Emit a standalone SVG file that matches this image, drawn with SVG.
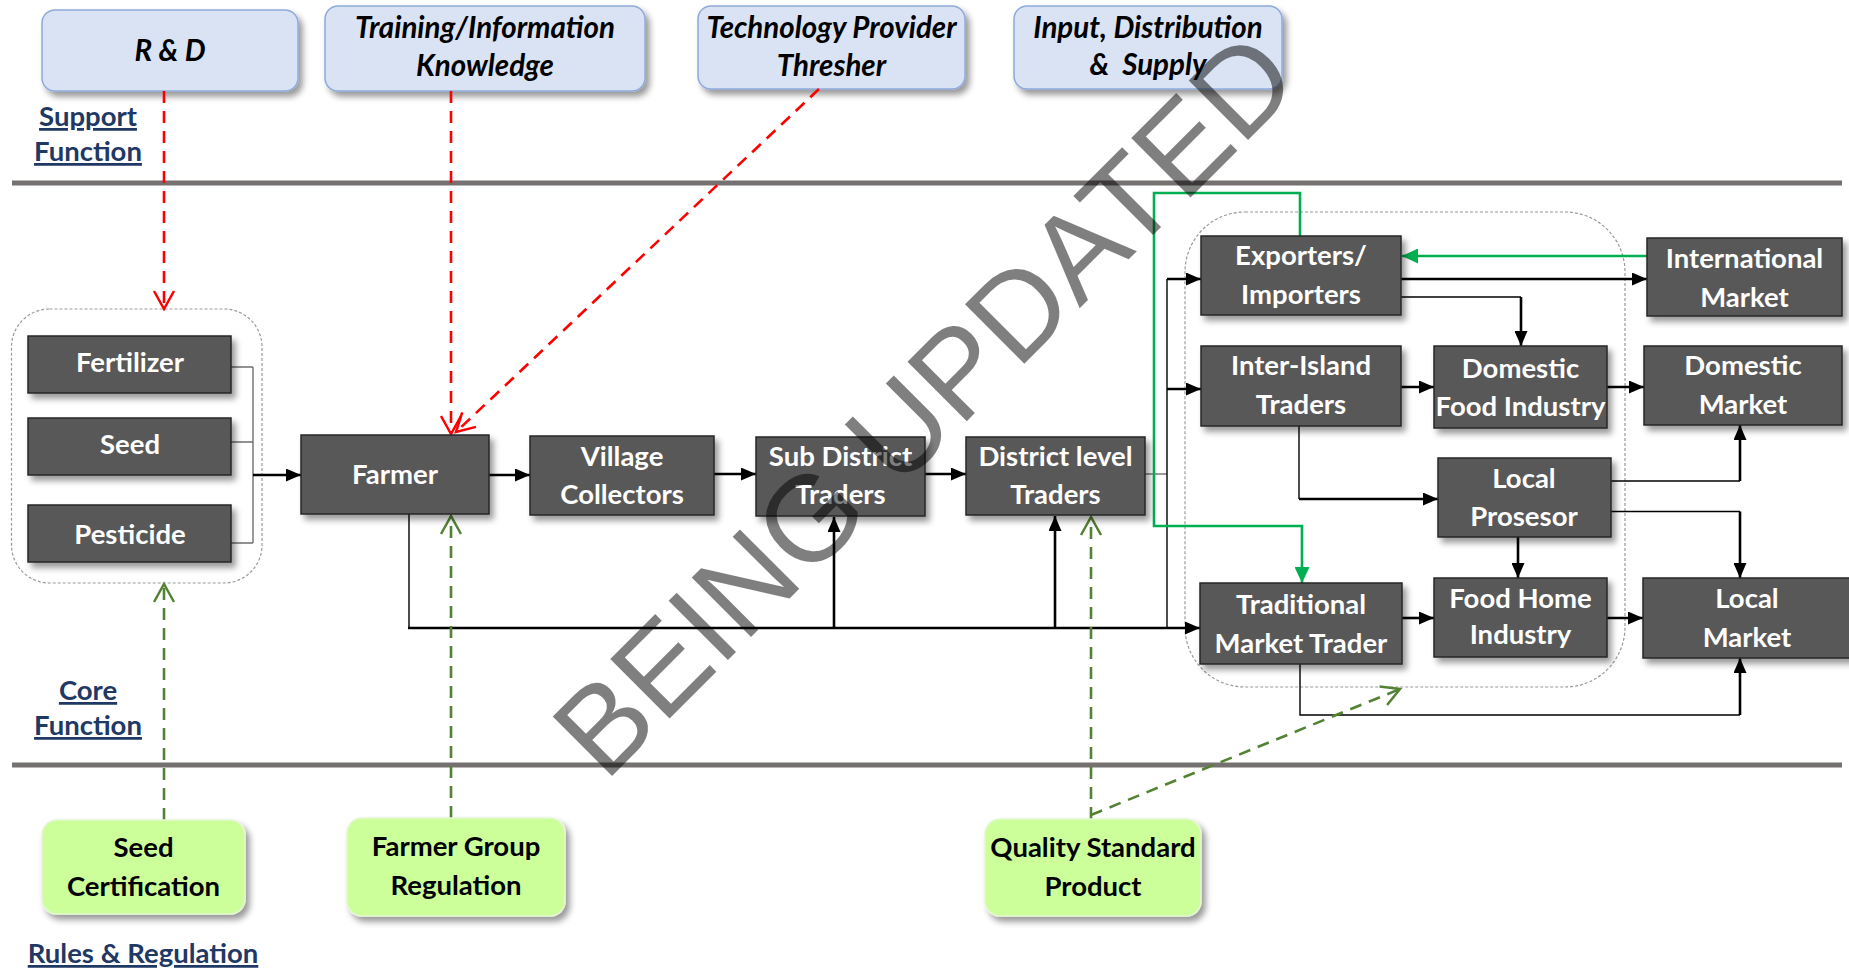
<svg xmlns="http://www.w3.org/2000/svg" width="1849" height="971" viewBox="0 0 1849 971">
  <defs>
    <filter id="shadow" x="-10%" y="-10%" width="130%" height="140%">
      <feDropShadow dx="4" dy="5" stdDeviation="3" flood-color="#000" flood-opacity="0.4"/>
    </filter>
    <marker id="arr" markerUnits="userSpaceOnUse" viewBox="0 0 15 13" markerWidth="15" markerHeight="13" refX="15" refY="6.5" orient="auto">
      <path d="M0,0 L15,6.5 L0,13 z" fill="#000"/>
    </marker>
    <marker id="arrG" markerUnits="userSpaceOnUse" viewBox="0 0 16 15" markerWidth="16" markerHeight="15" refX="16" refY="7.5" orient="auto">
      <path d="M0,0 L16,7.5 L0,15 z" fill="#00b050"/>
    </marker>
    <marker id="openR" markerUnits="userSpaceOnUse" viewBox="0 0 20 22" markerWidth="20" markerHeight="22" refX="18" refY="11" orient="auto" overflow="visible">
      <path d="M0,1 L18,11 L0,21" fill="none" stroke="#ff0000" stroke-width="2.5"/>
    </marker>
    <marker id="openG" markerUnits="userSpaceOnUse" viewBox="0 0 20 22" markerWidth="20" markerHeight="22" refX="18" refY="11" orient="auto" overflow="visible">
      <path d="M0,1 L18,11 L0,21" fill="none" stroke="#548235" stroke-width="2.5"/>
    </marker>
    <style>
      .sup rect { fill: #dae3f3; stroke: #8faadc; stroke-width: 1.5; }
      .sup text { font-family: Lato, "Liberation Sans", sans-serif; font-weight: bold; font-style: italic; font-size: 29.5px; text-anchor: middle; fill: #000; }
      .core rect { fill: #595959; stroke: #262626; stroke-width: 1.5; }
      .core text { font-family: Lato, "Liberation Sans", sans-serif; font-weight: bold; font-size: 27.5px; text-anchor: middle; fill: #fff; }
      .rule rect { fill: #ccff99; stroke: #e4f7d2; stroke-width: 1.5; }
      .rule text { font-family: Lato, "Liberation Sans", sans-serif; font-weight: bold; font-size: 27.5px; text-anchor: middle; fill: #000; }
      .lbl { font-family: Lato, "Liberation Sans", sans-serif; font-weight: bold; font-size: 27.5px; text-anchor: middle; fill: #1f3864; text-decoration: underline; }
      .band { stroke: #767171; stroke-width: 5; }
      .grp { fill: none; stroke: #9a9a9a; stroke-width: 1.2; stroke-dasharray: 3 2; }
      .thick { fill: none; stroke: #000; stroke-width: 2.6; }
      .thin { fill: none; stroke: #000; stroke-width: 1.4; }
      .gray { fill: none; stroke: #6f6f6f; stroke-width: 1.4; }
      .green { fill: none; stroke: #00b050; stroke-width: 2.6; }
      .dashR { fill: none; stroke: #ff0000; stroke-width: 2.6; stroke-dasharray: 12 8; }
      .dashG { fill: none; stroke: #548235; stroke-width: 2.6; stroke-dasharray: 12 8; }
    </style>
  </defs>

  <rect width="1849" height="971" fill="#fff"/>

  <!-- band separators -->
  <line class="band" x1="12" y1="183" x2="1842" y2="183"/>
  <line class="band" x1="12" y1="765" x2="1842" y2="765"/>

  <!-- section labels -->
  <text class="lbl" x="88" y="126">Support</text>
  <text class="lbl" x="88" y="161">Function</text>
  <text class="lbl" x="88" y="700">Core</text>
  <text class="lbl" x="88" y="735">Function</text>
  <text class="lbl" x="143" y="963">Rules &amp; Regulation</text>

  <!-- dotted grouping frames -->
  <rect class="grp" x="11.5" y="309" width="250.5" height="274" rx="38"/>
  <rect class="grp" x="1185" y="212" width="440" height="475" rx="60"/>

  <!-- support functions -->
  <g id="rnd" class="sup">
    <rect x="42" y="10" width="256" height="81" rx="13" filter="url(#shadow)"/>
    <text x="170" y="61">R &amp; D</text>
  </g>
  <g id="training" class="sup">
    <rect x="325" y="6" width="320" height="85" rx="13" filter="url(#shadow)"/>
    <text x="485" y="38">Training/Information</text>
    <text x="485" y="76">Knowledge</text>
  </g>
  <g id="technology" class="sup">
    <rect x="698" y="6" width="267" height="83" rx="13" filter="url(#shadow)"/>
    <text x="831.5" y="38">Technology Provider</text>
    <text x="831.5" y="76">Thresher</text>
  </g>
  <g id="input" class="sup">
    <rect x="1014" y="6" width="268" height="83" rx="13" filter="url(#shadow)"/>
    <text x="1148" y="38">Input, Distribution</text>
    <text x="1148" y="75" xml:space="preserve">&amp;  Supply</text>
  </g>

  <!-- connectors -->
  <g id="connectors">
    <!-- inputs bracket to farmer -->
    <path class="gray" d="M231,367 H253 M231,442 H253 M231,543 H253 M253,367 V543"/>
    <line class="thick" x1="253" y1="475" x2="301" y2="475" marker-end="url(#arr)"/>
    <!-- main chain -->
    <line class="thick" x1="489" y1="475" x2="530" y2="475" marker-end="url(#arr)"/>
    <line class="thick" x1="714" y1="474" x2="756" y2="474" marker-end="url(#arr)"/>
    <line class="thick" x1="925" y1="474" x2="966" y2="474" marker-end="url(#arr)"/>
    <line class="gray" x1="1145" y1="474" x2="1167" y2="474"/>
    <!-- distribution bus -->
    <line class="thin" x1="1167" y1="279" x2="1167" y2="628"/>
    <line class="thick" x1="1167" y1="279" x2="1201" y2="279" marker-end="url(#arr)"/>
    <line class="thick" x1="1167" y1="389" x2="1201" y2="389" marker-end="url(#arr)"/>
    <!-- farmer direct line -->
    <line class="thin" x1="409" y1="514" x2="409" y2="628"/>
    <line class="thick" x1="408" y1="628" x2="1200" y2="628" marker-end="url(#arr)"/>
    <line class="thick" x1="834" y1="628" x2="834" y2="517" marker-end="url(#arr)"/>
    <line class="thick" x1="1055" y1="628" x2="1055" y2="516" marker-end="url(#arr)"/>
    <!-- exporters -->
    <line class="thick" x1="1401" y1="279" x2="1647" y2="279" marker-end="url(#arr)"/>
    <line class="green" x1="1647" y1="256" x2="1402" y2="256" marker-end="url(#arrG)"/>
    <path class="thin" d="M1401,297 H1521"/>
    <line class="thick" x1="1521" y1="297" x2="1521" y2="346" marker-end="url(#arr)"/>
    <!-- inter-island -->
    <line class="thick" x1="1401" y1="387" x2="1434" y2="387" marker-end="url(#arr)"/>
    <line class="thick" x1="1607" y1="387" x2="1644" y2="387" marker-end="url(#arr)"/>
    <path class="thin" d="M1299,426 V499"/>
    <line class="thick" x1="1299" y1="499" x2="1438" y2="499" marker-end="url(#arr)"/>
    <!-- local processor -->
    <path class="thin" d="M1611,481 H1740"/>
    <line class="thick" x1="1740" y1="481" x2="1740" y2="425" marker-end="url(#arr)"/>
    <path class="thin" d="M1609,511.5 H1740"/>
    <line class="thick" x1="1740" y1="511.5" x2="1740" y2="578" marker-end="url(#arr)"/>
    <line class="thick" x1="1518" y1="537" x2="1518" y2="578" marker-end="url(#arr)"/>
    <!-- traditional market -->
    <line class="thick" x1="1402" y1="618" x2="1434" y2="618" marker-end="url(#arr)"/>
    <line class="thick" x1="1607" y1="618" x2="1643" y2="618" marker-end="url(#arr)"/>
    <path class="thin" d="M1300,664 V715 H1740"/>
    <line class="thick" x1="1740" y1="715" x2="1740" y2="658" marker-end="url(#arr)"/>
    <!-- export return loop -->
    <path class="green" d="M1300,236 V193 H1154 V526 H1302 V583" marker-end="url(#arrG)"/>
    <!-- support influence -->
    <line class="dashR" x1="164" y1="91" x2="164" y2="309" marker-end="url(#openR)"/>
    <line class="dashR" x1="451" y1="91" x2="451" y2="434" marker-end="url(#openR)"/>
    <line class="dashR" x1="819" y1="89" x2="456" y2="432" marker-end="url(#openR)"/>
    <!-- rules influence -->
    <line class="dashG" x1="164" y1="820" x2="164" y2="584" marker-end="url(#openG)"/>
    <line class="dashG" x1="451" y1="818" x2="451" y2="516" marker-end="url(#openG)"/>
    <line class="dashG" x1="1091" y1="819" x2="1091" y2="517" marker-end="url(#openG)"/>
    <line class="dashG" x1="1091" y1="815" x2="1400" y2="689" marker-end="url(#openG)"/>
  </g>

  <!-- core value chain -->
  <g id="fertilizer" class="core">
    <rect x="28" y="336" width="203" height="57" filter="url(#shadow)"/>
    <text x="130" y="372">Fertilizer</text>
  </g>
  <g id="seed" class="core">
    <rect x="28" y="418" width="203" height="57" filter="url(#shadow)"/>
    <text x="130" y="454">Seed</text>
  </g>
  <g id="pesticide" class="core">
    <rect x="28" y="505" width="203" height="57" filter="url(#shadow)"/>
    <text x="130" y="544">Pesticide</text>
  </g>
  <g id="farmer" class="core">
    <rect x="301" y="435" width="188" height="79" filter="url(#shadow)"/>
    <text x="395" y="484">Farmer</text>
  </g>
  <g id="village" class="core">
    <rect x="530" y="436" width="184" height="79" filter="url(#shadow)"/>
    <text x="622" y="466">Village</text>
    <text x="622" y="504">Collectors</text>
  </g>
  <g id="subdistrict" class="core">
    <rect x="756" y="437" width="169" height="79" filter="url(#shadow)"/>
    <text x="840.5" y="466">Sub District</text>
    <text x="840.5" y="504">Traders</text>
  </g>
  <g id="district" class="core">
    <rect x="966" y="437" width="179" height="78" filter="url(#shadow)"/>
    <text x="1055.5" y="466">District level</text>
    <text x="1055.5" y="504">Traders</text>
  </g>
  <g id="exporters" class="core">
    <rect x="1201" y="236" width="200" height="79" filter="url(#shadow)"/>
    <text x="1301" y="265">Exporters/</text>
    <text x="1301" y="304">Importers</text>
  </g>
  <g id="interisland" class="core">
    <rect x="1201" y="346" width="200" height="80" filter="url(#shadow)"/>
    <text x="1301" y="375">Inter-Island</text>
    <text x="1301" y="414">Traders</text>
  </g>
  <g id="traditional" class="core">
    <rect x="1200" y="583" width="202" height="81" filter="url(#shadow)"/>
    <text x="1301" y="614">Traditional</text>
    <text x="1301" y="653">Market Trader</text>
  </g>
  <g id="domesticfood" class="core">
    <rect x="1434" y="346" width="173" height="82" filter="url(#shadow)"/>
    <text x="1520.5" y="378">Domestic</text>
    <text x="1520.5" y="416">Food Industry</text>
  </g>
  <g id="localprocessor" class="core">
    <rect x="1438" y="458" width="173" height="79" filter="url(#shadow)"/>
    <text x="1524" y="488">Local</text>
    <text x="1524" y="526">Prosesor</text>
  </g>
  <g id="foodhome" class="core">
    <rect x="1434" y="578" width="173" height="79" filter="url(#shadow)"/>
    <text x="1520.5" y="608">Food Home</text>
    <text x="1520.5" y="644">Industry</text>
  </g>
  <g id="international" class="core">
    <rect x="1647" y="238" width="195" height="78" filter="url(#shadow)"/>
    <text x="1744.5" y="268">International</text>
    <text x="1744.5" y="307">Market</text>
  </g>
  <g id="domesticmarket" class="core">
    <rect x="1644" y="346" width="198" height="79" filter="url(#shadow)"/>
    <text x="1743" y="375">Domestic</text>
    <text x="1743" y="414">Market</text>
  </g>
  <g id="localmarket" class="core">
    <rect x="1643" y="578" width="210" height="80" filter="url(#shadow)"/>
    <text x="1747" y="608">Local</text>
    <text x="1747" y="647">Market</text>
  </g>

  <!-- rules and regulation -->
  <g id="seedcert" class="rule">
    <rect x="42" y="820" width="203" height="94" rx="15" filter="url(#shadow)"/>
    <text x="143.5" y="857">Seed</text>
    <text x="143.5" y="896">Certification</text>
  </g>
  <g id="farmergroup" class="rule">
    <rect x="347" y="818" width="218" height="98" rx="15" filter="url(#shadow)"/>
    <text x="456" y="856">Farmer Group</text>
    <text x="456" y="895">Regulation</text>
  </g>
  <g id="quality" class="rule">
    <rect x="985" y="819" width="216" height="97" rx="15" filter="url(#shadow)"/>
    <text x="1093" y="857">Quality Standard</text>
    <text x="1093" y="896">Product</text>
  </g>

  <!-- watermark -->
  <text x="605" y="783" transform="rotate(-45 605 783)" font-family="'Liberation Sans', Arial, sans-serif" font-size="122" fill="#000" fill-opacity="0.5">BEING UPDATED</text>
</svg>
